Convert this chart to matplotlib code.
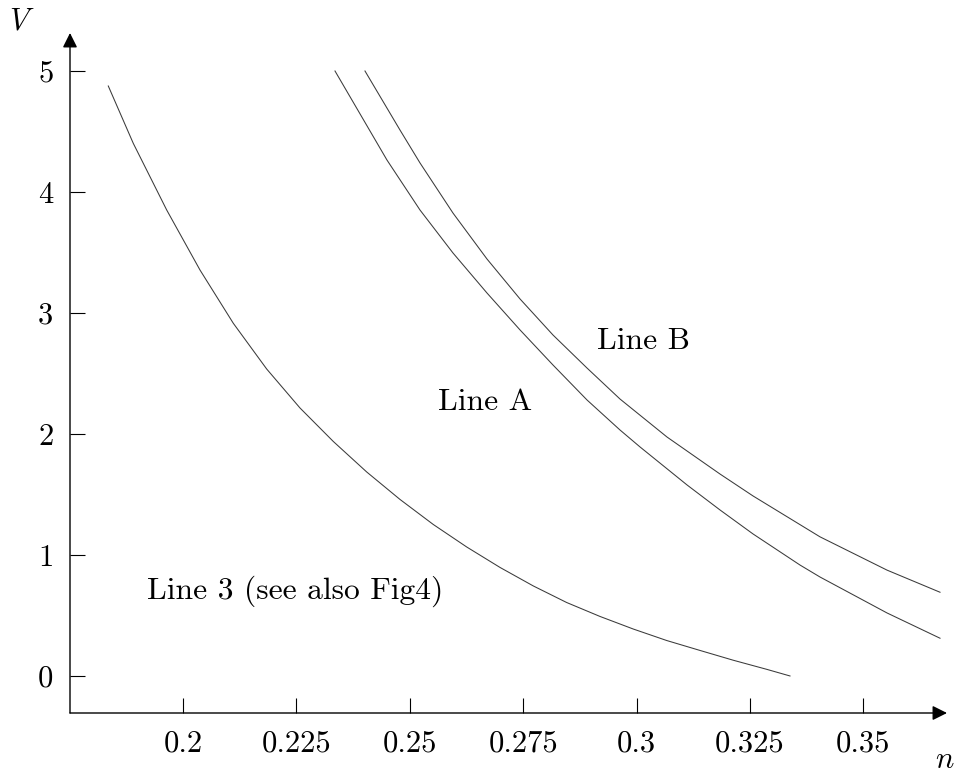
import numpy as np
import matplotlib
matplotlib.use('Agg')
import matplotlib.pyplot as plt

plt.rcParams['font.family'] = 'cmr10'
plt.rcParams['mathtext.fontset'] = 'cm'
plt.rcParams['axes.formatter.use_mathtext'] = True

# curves (n, V)
line3_n = [0.18353, 0.18904, 0.19641, 0.20375, 0.21109, 0.21845, 0.22579,
           0.23314, 0.24050, 0.24784, 0.25518, 0.26255, 0.26989, 0.27723,
           0.28459, 0.29193, 0.29927, 0.30664, 0.31398, 0.32132, 0.32868,
           0.33382]
line3_v = [4.876, 4.402, 3.851, 3.355, 2.915, 2.537, 2.215,
           1.938, 1.686, 1.459, 1.252, 1.066, 0.897, 0.744,
           0.607, 0.492, 0.388, 0.293, 0.211, 0.130, 0.055,
           0.0]

lineA_n = [0.23351, 0.24497, 0.25225, 0.25952, 0.26702, 0.27430, 0.28157,
           0.28907, 0.29634, 0.30075, 0.31111, 0.31839, 0.32566, 0.33602,
           0.34043, 0.35520, 0.36689]
lineA_v = [5.0, 4.264, 3.851, 3.496, 3.165, 2.860, 2.570,
           2.281, 2.033, 1.893, 1.579, 1.372, 1.174, 0.917,
           0.818, 0.521, 0.312]

lineB_n = [0.24012, 0.24784, 0.25225, 0.25952, 0.26702, 0.27430, 0.28157,
           0.28907, 0.29634, 0.30670, 0.31839, 0.32566, 0.34043, 0.35520,
           0.36689]
lineB_v = [5.0, 4.512, 4.240, 3.826, 3.446, 3.116, 2.818,
           2.545, 2.289, 1.975, 1.669, 1.488, 1.150, 0.875,
           0.692]

x_ticks = [0.2, 0.225, 0.25, 0.275, 0.3, 0.325, 0.35]
x_tick_labels = ['0.2', '0.225', '0.25', '0.275', '0.3', '0.325', '0.35']
y_ticks = [0, 1, 2, 3, 4, 5]
y_tick_labels = ['0', '1', '2', '3', '4', '5']

fig = plt.figure(figsize=(9.63, 7.77), dpi=100)
ax = fig.add_axes([70/963, 64/777, 877/963, 680/777])

lc = '#3a3a3a'
ax.plot(line3_n, line3_v, color=lc, lw=0.75)
ax.plot(lineA_n, lineA_v, color=lc, lw=0.75)
ax.plot(lineB_n, lineB_v, color=lc, lw=0.75)

ax.set_xlim(0.17509, 0.36843)
ax.set_ylim(-0.306, 5.314)

for s in ax.spines.values():
    s.set_visible(False)

# axes with arrow heads
arrow = dict(arrowstyle='-|>', color='black', lw=1.0, mutation_scale=22,
             shrinkA=0, shrinkB=0)
ax.annotate('', xy=(1, 0), xycoords='axes fraction', xytext=(0, 0),
            textcoords='axes fraction', arrowprops=arrow)
ax.annotate('', xy=(0, 1), xycoords='axes fraction', xytext=(0, 0),
            textcoords='axes fraction', arrowprops=arrow)

ax.set_xticks(x_ticks)
ax.set_xticklabels(x_tick_labels)
ax.set_yticks(y_ticks)
ax.set_yticklabels(y_tick_labels)
ax.tick_params(direction='in', length=11, width=0.8, labelsize=22, pad=12)

ax.text(0.3016, 2.77, 'Line B', fontsize=22.7, ha='center', va='center')
ax.text(0.2666, 2.26, 'Line A', fontsize=22.7, ha='center', va='center')
ax.text(0.2247, 0.70, 'Line 3 (see also Fig4)', fontsize=22.7, ha='center', va='center')

fig.text(22/963, 1 - 22/777, '$V$', fontsize=22, ha='center', va='center')
fig.text(945/963, 1 - 760/777, '$n$', fontsize=22, ha='center', va='center')

fig.savefig('out.png', dpi=100)
